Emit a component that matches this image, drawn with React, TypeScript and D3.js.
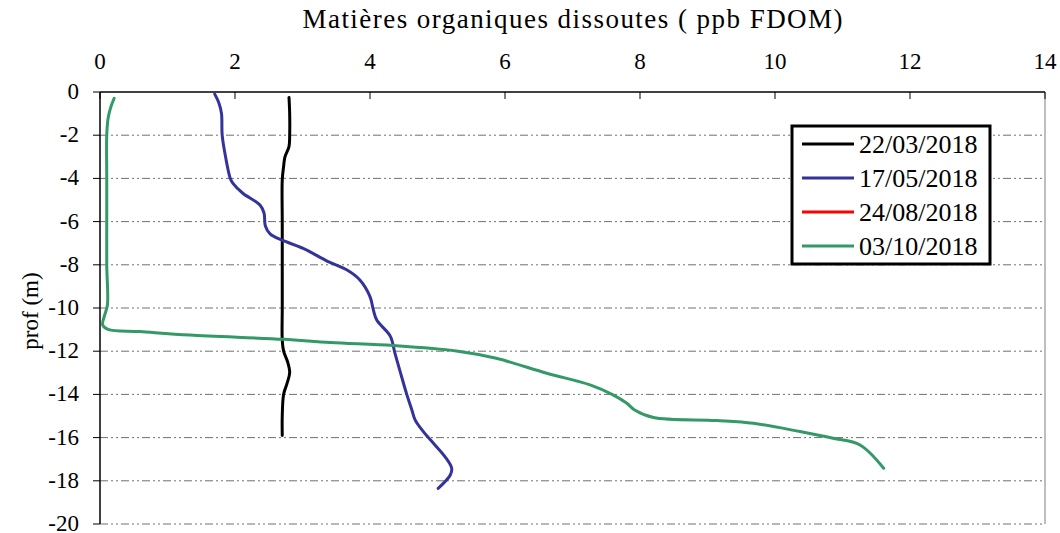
import React from "react";
import * as d3 from "d3";

// Depth profiles: [FDOM (ppb), depth (m)]
const profile220318: [number, number][] = [
  [2.8, -0.25], [2.81, -1.0], [2.81, -2.0], [2.8, -2.53], [2.74, -3.0], [2.72, -3.45],
  [2.7, -4.07], [2.7, -6.0], [2.7, -8.0], [2.7, -10.0], [2.7, -11.5], [2.72, -12.0],
  [2.78, -12.5], [2.81, -13.0], [2.77, -13.5], [2.72, -14.0], [2.7, -15.0], [2.7, -15.9],
];

const profile170518: [number, number][] = [
  [1.7, -0.1], [1.76, -0.5], [1.8, -1.0], [1.81, -2.0], [1.86, -3.0], [1.93, -4.0],
  [1.97, -4.23], [2.12, -4.7], [2.37, -5.23], [2.43, -5.6], [2.45, -6.2], [2.52, -6.57],
  [2.69, -6.85], [3.01, -7.24], [3.38, -7.85], [3.66, -8.24], [3.85, -8.7], [4.0, -9.47],
  [4.05, -10.09], [4.1, -10.56], [4.3, -11.3], [4.37, -12.1], [4.47, -13.2], [4.54, -13.95],
  [4.62, -14.72], [4.67, -15.19], [4.79, -15.72], [4.94, -16.26], [5.11, -16.88],
  [5.21, -17.42], [5.19, -17.73], [5.01, -18.35],
];

const profile240818: [number, number][] = [];

const profile031018: [number, number][] = [
  [0.21, -0.29], [0.16, -0.7], [0.12, -1.22], [0.1, -2.0], [0.1, -4.0], [0.1, -6.0],
  [0.1, -8.0], [0.11, -9.86], [0.07, -10.32], [0.04, -10.79], [0.12, -10.99], [0.59, -11.09],
  [1.33, -11.25], [2.72, -11.45], [3.41, -11.6], [4.35, -11.74], [5.28, -11.99], [5.87, -12.33],
  [6.62, -13.02], [7.26, -13.56], [7.6, -14.02], [7.8, -14.4], [7.92, -14.72], [8.2, -15.07],
  [9.13, -15.21], [9.68, -15.34], [10.37, -15.72], [10.86, -16.03], [11.26, -16.34], [11.61, -17.42],
];

const seriesNames = ["22/03/2018", "17/05/2018", "24/08/2018", "03/10/2018"];
const seriesColors = ["#000000", "#333399", "#ff0000", "#339966"];
const seriesData = [profile220318, profile170518, profile240818, profile031018];

const xTicks = [0, 2, 4, 6, 8, 10, 12, 14];
const yTicks = [0, -2, -4, -6, -8, -10, -12, -14, -16, -18, -20];

const W = 1060;
const H = 533;
const left = 100;
const right = 1045;
const top = 92;
const bottom = 524;
const font = "'Liberation Serif', 'Times New Roman', serif";

export default function App() {
  const x = d3.scaleLinear().domain([0, 14]).range([left, right]);
  const y = d3.scaleLinear().domain([0, -20]).range([top, bottom]);
  const line = d3
    .line<[number, number]>()
    .x((d) => x(d[0]))
    .y((d) => y(d[1]))
    .curve(d3.curveCatmullRom.alpha(0.5));

  return (
    <div style={{ position: "absolute", left: 0, top: 0 }}>
      <svg width={W} height={H} style={{ display: "block", background: "#fff" }}>
        {/* horizontal dash-dot gridlines with outside ticks */}
        {yTicks.map((t) =>
          t === 0 ? null : (
            <line
              key={"g" + t}
              x1={left}
              x2={right}
              y1={y(t)}
              y2={y(t)}
              stroke="#707070"
              strokeWidth={1}
              strokeDasharray="8,3,2,3,2,3"
            />
          )
        )}
        {yTicks.map((t) => (
          <line key={"yt" + t} x1={left - 7} x2={left} y1={y(t)} y2={y(t)} stroke="#000" strokeWidth={1} />
        ))}
        {/* frame */}
        <line x1={right} x2={right} y1={top} y2={bottom} stroke="#a8a8a8" strokeWidth={1.5} />
        <line x1={left} x2={right} y1={top} y2={top} stroke="#000" strokeWidth={1.5} />
        <line x1={left} x2={left} y1={top} y2={bottom} stroke="#000" strokeWidth={1.5} />
        {xTicks.map((t) => (
          <line key={"xt" + t} x1={x(t)} x2={x(t)} y1={top} y2={top + 7} stroke="#000" strokeWidth={1} />
        ))}
        {/* tick labels */}
        {xTicks.map((t) => (
          <text key={"xl" + t} x={x(t)} y={69} textAnchor="middle" fontFamily={font} fontSize={23} fill="#000">
            {t}
          </text>
        ))}
        {yTicks.map((t) => (
          <text key={"yl" + t} x={79} y={y(t) + 7} textAnchor="end" fontFamily={font} fontSize={23} fill="#000">
            {t}
          </text>
        ))}
        {/* titles */}
        <text
          x={(left + right) / 2}
          y={28}
          textAnchor="middle"
          fontFamily={font}
          fontSize={27}
          textLength={540}
          lengthAdjust="spacing"
          fill="#000"
        >
          Matières organiques dissoutes ( ppb FDOM)
        </text>
        <text
          transform={`translate(38, ${(top + bottom) / 2 + 3}) rotate(-90)`}
          textAnchor="middle"
          fontFamily={font}
          fontSize={23}
          fill="#000"
        >
          prof (m)
        </text>
        {/* data lines */}
        {seriesData.map((d, i) =>
          d.length ? (
            <path key={"s" + i} d={line(d) ?? ""} fill="none" stroke={seriesColors[i]} strokeWidth={3} strokeLinejoin="round" strokeLinecap="round" />
          ) : null
        )}
        {/* legend */}
        <g>
          <rect x={792} y={126} width={198} height={138} fill="#fff" stroke="#000" strokeWidth={3} />
          {seriesNames.map((n, i) => (
            <g key={"lg" + i}>
              <line x1={802} x2={854} y1={144 + i * 34} y2={144 + i * 34} stroke={seriesColors[i]} strokeWidth={3} />
              <text x={859} y={144 + i * 34 + 9} fontFamily={font} fontSize={26} fill="#000">
                {n}
              </text>
            </g>
          ))}
        </g>
      </svg>
    </div>
  );
}
